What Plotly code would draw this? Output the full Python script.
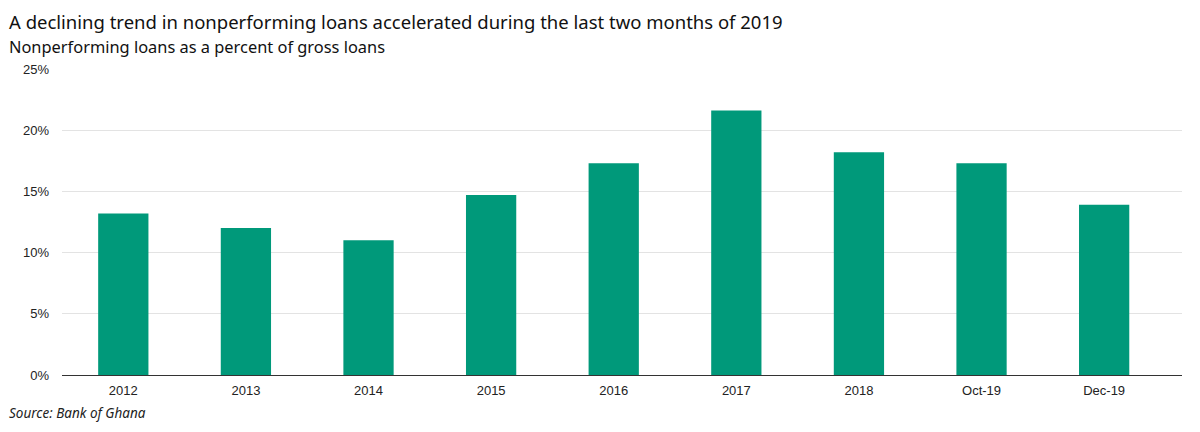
import plotly.graph_objects as go

categories = ["2012", "2013", "2014", "2015", "2016", "2017", "2018", "Oct-19", "Dec-19"]
npl_pct = [13.2, 12.0, 11.0, 14.7, 17.3, 21.6, 18.2, 17.3, 13.9]
y_ticks = [0, 5, 10, 15, 20, 25]
y_tick_labels = ["0%", "5%", "10%", "15%", "20%", "25%"]

title_text = "A declining trend in nonperforming loans accelerated during the last two months of 2019"
subtitle_text = "Nonperforming loans as a percent of gross loans"
source_text = "Source: Bank of Ghana"

# page body has an 8px default margin; compensate
OFF = 8
ML, MR, MT, MB = 62 - OFF, 18 + OFF, 69 - OFF, 57 + OFF

fig = go.Figure(go.Bar(
    x=categories, y=npl_pct,
    marker=dict(color="#00997A", line=dict(width=0)),
    width=0.41,
))

fig.update_layout(
    width=1200, height=432,
    margin=dict(l=ML, r=MR, t=MT, b=MB),
    paper_bgcolor="white", plot_bgcolor="white",
    showlegend=False,
    xaxis=dict(
        type="category", range=[-0.5, 8.635],
        showgrid=False, showline=True, linecolor="#333333", linewidth=1,
        ticks="", tickfont=dict(family="Liberation Sans, Arial", size=13, color="#222222"),
        ticklabelstandoff=3,
    ),
    yaxis=dict(
        range=[0, 25], tickvals=y_ticks, ticktext=y_tick_labels,
        showgrid=True, gridcolor="#e3e3e3", gridwidth=1,
        zeroline=False, showline=False, ticks="",
        tickfont=dict(family="Liberation Sans, Arial", size=13, color="#222222"),
        ticklabelstandoff=12,
    ),
)

plot_w = 1200 - ML - MR
plot_h = 432 - MT - MB
def px_x(px):
    return (px - OFF - ML) / plot_w
def px_y(py):
    return (432 - MB - (py - OFF)) / plot_h

fig.add_annotation(text=title_text, x=px_x(8), y=px_y(OFF), xref="paper", yref="paper",
                   xanchor="left", yanchor="top", showarrow=False, borderpad=0,
                   font=dict(family="Noto Sans", size=18.5, color="#111111"))
fig.add_annotation(text=subtitle_text, x=px_x(8), y=px_y(34), xref="paper", yref="paper",
                   xanchor="left", yanchor="top", showarrow=False, borderpad=0,
                   font=dict(family="Noto Sans", size=16.4, color="#111111"))
fig.add_annotation(text="<i>" + source_text + "</i>", x=px_x(7), y=px_y(413), xref="paper", yref="paper",
                   xanchor="left", yanchor="middle", showarrow=False,
                   font=dict(family="Noto Sans", size=13.5, color="#222222"))

fig.write_html("out.html")
